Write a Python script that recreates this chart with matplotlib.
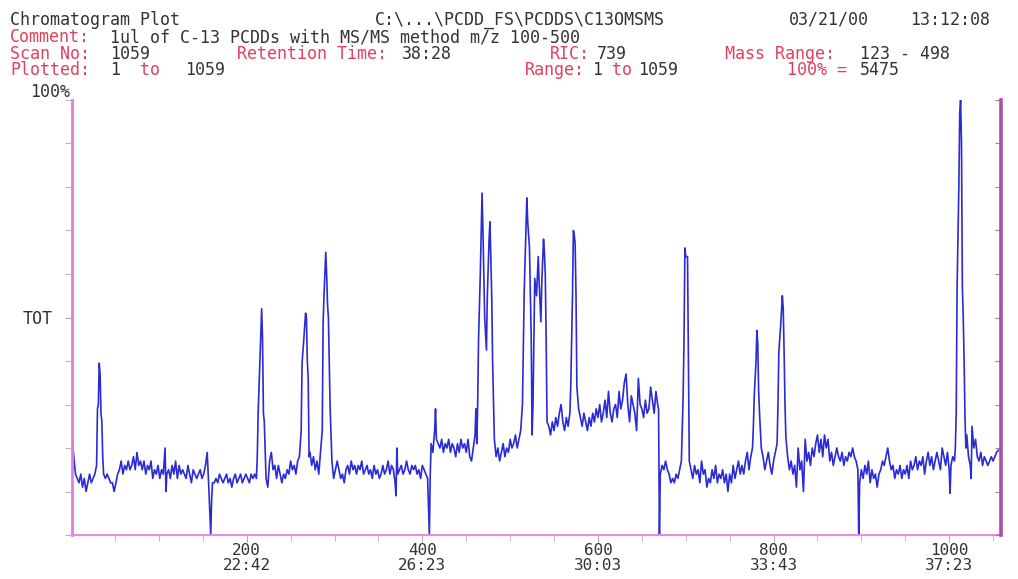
import matplotlib
matplotlib.use("Agg")
import matplotlib.pyplot as plt
from matplotlib.ticker import MultipleLocator, FixedLocator

# ---- data (scan number -> % of 5475 counts) ----
scans = [
    1, 3, 5, 7, 9, 11, 13, 15, 17, 19, 21, 23, 25, 27,
    29, 30, 31, 32, 33, 34, 35, 36, 37,
    39, 41, 43, 45, 47, 49, 51,
    53, 55, 57, 59, 61, 63, 65, 67, 69, 71, 73, 75, 77, 79, 81, 83, 85, 87, 89,
    91, 93, 95, 97, 99, 101, 103, 105,
    107, 108, 109, 111, 113, 115, 117, 119, 121, 123, 125, 127, 129, 131, 133,
    135, 137, 139, 141, 143, 145, 147, 149, 151, 153, 155, 157, 159, 160, 161,
    163, 165, 167, 169, 171, 173, 175, 177, 179, 181, 183, 185, 187, 189, 191,
    193, 195, 197, 199, 201, 203, 205, 207, 209, 211,
    212, 213, 215, 217, 218, 219, 220, 222,
    224, 226, 228, 230, 232, 234, 236, 238, 240, 242, 244, 246, 248, 250, 252,
    254, 256, 258, 260, 262,
    263, 265, 267, 268, 269, 270, 271,
    272, 274, 276, 278, 280, 282, 284, 286,
    287, 288, 290, 291, 292, 293, 295, 297,
    299, 301, 303, 305, 307, 309, 311, 313, 315, 317, 319, 321, 323, 325, 327,
    329, 331, 333, 335, 337, 339, 341, 343, 345, 347, 349, 351, 353, 355, 357,
    359, 361, 363, 365, 367, 369, 370, 371, 372, 374, 376, 378, 380, 382, 384,
    386, 388, 390, 392, 394, 396, 398, 400, 402, 404, 406, 408, 409, 410, 412,
    414, 415, 416,
    418, 420, 422, 424, 426, 428, 430, 432, 434, 436, 438, 440, 442, 444, 446,
    448, 450, 452, 454, 456, 458, 460, 461, 462,
    463, 464, 466, 468, 469, 470, 471, 473, 474, 476, 477, 478, 479, 480, 482,
    484, 486, 488, 490, 492, 494, 496, 498, 500, 502, 504, 506, 508, 510, 512,
    514, 516, 518, 519, 520, 522, 524, 525,
    526, 528, 530, 532, 533, 535, 536, 538, 539, 540, 541, 542,
    544, 546, 548, 550, 552, 554, 556, 558, 560, 562, 564, 566, 568,
    569, 571, 572, 573, 574, 575, 576, 578,
    580, 582, 584, 586, 588, 590, 592, 594, 596, 598, 600, 602, 604, 606, 608,
    610, 612, 614, 616, 618, 620, 622, 624, 626, 628, 630, 632, 634, 636, 638,
    640, 642, 644, 646, 648, 650, 652, 654, 656, 658, 660, 662, 664, 666, 668,
    669, 670, 671,
    673, 675, 677, 679, 681, 683, 685, 687, 689, 691, 693, 695,
    696, 697, 698, 699, 700, 702, 703, 704,
    706, 708, 710, 712, 714, 716, 718, 720, 722, 724, 726, 728, 730, 732, 734,
    736, 738, 740, 742, 744, 746, 748, 750, 752, 754, 756, 758, 760, 762, 764,
    766, 768, 770, 772, 774, 776,
    777, 778, 780, 781, 782, 783, 784, 786,
    788, 790, 792, 794, 796, 798, 800, 802, 804,
    805, 806, 808, 810, 811, 812, 813, 814,
    816, 818, 820, 822, 824, 826, 828, 830, 832, 834, 836, 838, 840, 842, 844,
    846, 848, 850, 852, 854, 856, 858, 860, 862, 864, 866, 868, 870, 872, 874,
    876, 878, 880, 882, 884, 886, 888, 890, 892, 894, 896, 897, 898,
    900, 902, 904, 906, 908, 910, 912, 914, 916, 918, 920, 922, 924, 926, 928,
    930, 932, 934, 936, 938, 940, 942, 944, 946, 948, 950, 952, 954, 956, 958,
    960, 962, 964, 966, 968, 970, 972, 974, 976, 978, 980, 982, 984, 986, 988,
    990, 992, 994, 996, 998, 1000, 1001, 1002, 1004, 1006, 1007,
    1008, 1009, 1011, 1012, 1013, 1014, 1015, 1016, 1017, 1018,
    1019, 1020, 1022, 1024, 1025, 1026, 1028, 1030, 1032, 1034, 1036, 1038,
    1040, 1042, 1044, 1046, 1048, 1050, 1052, 1054, 1056,
]

tot_pct = [
    23, 18, 14, 13, 12, 14, 11, 13, 10, 12, 14, 12, 13, 14,
    16, 29, 30, 39.5, 37, 28, 26, 18, 14,
    13, 14, 13, 12, 12, 10, 12,
    14, 15, 17, 14, 16, 15, 17, 15, 16, 18, 15, 19, 16, 17, 15, 17, 14, 16, 15,
    17, 13, 15, 14, 16, 13, 15, 14,
    20, 10, 14, 15, 13, 16, 14, 17, 13, 16, 14, 15, 14, 13, 16,
    14, 12, 15, 14, 13, 14, 15, 13, 14, 16, 19, 10, 0, 8, 12,
    12, 13, 12, 14, 13, 12, 13, 14, 12, 13, 11, 13, 14, 12, 13,
    14, 12, 13, 14, 13, 12, 14, 13, 14, 13,
    18, 28, 40, 52, 45, 28, 26, 13,
    11, 17, 19, 15, 16, 13, 16, 14, 12, 14, 13, 15, 14, 17, 15,
    16, 14, 17, 18, 24,
    39.5, 45, 51, 50, 40, 36, 18,
    19, 16, 18, 15, 17, 14, 19, 24,
    49, 55, 65, 60, 53, 50, 29, 17,
    13, 15, 17, 15, 13, 14, 12, 15, 16, 14, 17, 15, 16, 14, 16,
    15, 17, 14, 15, 16, 14, 15, 13, 16, 14, 15, 13, 14, 16, 14,
    15, 17, 14, 16, 15, 12, 9, 20, 14, 15, 16, 14, 15, 17, 15,
    14, 16, 15, 16, 14, 15, 13, 16, 15, 14, 13, 0, 14, 21, 19,
    24, 29, 22,
    21, 20, 22, 19, 21, 20, 22, 19, 21, 20, 18, 21, 19, 22, 20,
    21, 19, 22, 18, 17, 20, 23, 29, 21,
    30, 45, 60, 78.6, 70, 60, 50, 42.5, 55, 68, 72, 64, 55, 40, 22,
    18, 20, 17, 19, 21, 18, 20, 19, 22, 20, 21, 23, 20, 22, 24,
    30, 56, 70, 77.5, 72, 66, 45, 23,
    30, 59, 55, 64, 58, 49, 58, 68, 65, 60, 45, 26,
    25, 23, 26, 24, 27, 25, 28, 30, 26, 24, 27, 25, 28,
    34, 55, 70, 69, 67, 55, 34, 29,
    27, 25, 28, 26, 24, 27, 25, 28, 26, 29, 27, 30, 26, 28, 31,
    27, 33, 28, 26, 29, 30, 27, 33, 29, 31, 35, 37, 30, 26, 32,
    30, 28, 24, 36, 30, 29, 27, 31, 28, 29, 34, 31, 28, 33, 30,
    29, 0, 14,
    16, 15, 17, 15, 14, 12, 13, 12, 14, 13, 15, 17,
    25, 32, 45, 66, 64, 64, 40, 17,
    15, 13, 16, 14, 15, 12, 17, 14, 15, 11, 13, 12, 15, 13, 16,
    12, 14, 13, 15, 12, 14, 10, 14, 12, 16, 13, 15, 17, 14, 16,
    14, 17, 19, 15, 18, 20,
    25, 32, 40, 47, 44, 33, 28, 20,
    18, 15, 17, 19, 16, 14, 17, 19, 21,
    30, 42, 48, 55, 52, 42, 30, 22.5,
    18, 15, 17, 14, 16, 11, 20, 15, 17, 10, 22, 17, 19, 16, 20,
    18, 21, 23, 19, 22, 18, 23, 20, 22, 17, 19, 16, 18, 20, 18,
    17, 19, 16, 18, 17, 19, 18, 20, 18, 17, 15, 0, 12,
    15, 13, 16, 14, 17, 12, 15, 13, 14, 11, 14, 15, 17, 16, 18,
    20, 17, 15, 16, 13, 15, 14, 16, 13, 15, 14, 16, 13, 17, 15,
    16, 18, 15, 17, 16, 18, 14, 17, 19, 16, 18, 15, 17, 19, 17,
    15, 20, 18, 16, 19, 15, 9.6, 16, 18, 17, 20,
    28, 57, 80, 97, 100, 90, 57, 50, 40, 27,
    20, 23, 18, 16, 13, 25, 20, 22, 18, 17, 19, 16,
    18, 17, 16, 17, 18, 17, 18, 19, 19.5,
]

tick_scans = [200, 400, 600, 800, 1000]
tick_times = ["22:42", "26:23", "30:03", "33:43", "37:23"]

RED = "#e2405c"
TXT = "#333333"
MONO = "DejaVu Sans Mono"

# header block: (baseline y px, [(x px, text, colour key)])
header_lines = [
    (25, [(10, "Chromatogram Plot", "k"), (375, r"C:\...\PCDD_FS\PCDDS\C13OMSMS", "k"),
          (789, "03/21/00", "k"), (910, "13:12:08", "k")]),
    (42, [(10, "Comment:", "r"), (110, "1ul of C-13 PCDDs with MS/MS method m/z 100-500", "k")]),
    (59, [(10, "Scan No:", "r"), (110, "1059", "k"), (237, "Retention Time:", "r"),
          (402, "38:28", "k"), (550, "RIC:", "r"), (597, "739", "k"),
          (725, "Mass Range:", "r"), (860, "123 - 498", "k")]),
    (75, [(10, "Plotted:", "r"), (110, "1", "k"), (140, "to", "r"), (185, "1059", "k"),
          (525, "Range:", "r"), (592, "1", "k"), (612, "to", "r"), (638, "1059", "k"),
          (787, "100% =", "r"), (860, "5475", "k")]),
]

W, H = 1018, 579
fig = plt.figure(figsize=(W / 100, H / 100), dpi=100)
ax = fig.add_axes([72 / W, 44 / H, 929 / W, 435 / H])

ax.plot(scans, tot_pct, color="#2a2ad6", lw=1.2)
ax.set_xlim(1, 1059)
ax.set_ylim(0, 100)

# spines
ax.spines["top"].set_visible(False)
ax.spines["right"].set_visible(False)
ax.spines["left"].set_color("#e27ae6")
ax.spines["left"].set_linewidth(2.0)
ax.spines["bottom"].set_color("#e68ae6")
ax.spines["bottom"].set_linewidth(1.5)

# x ticks: scan number + retention time
ax.xaxis.set_major_locator(FixedLocator(tick_scans))
ax.set_xticklabels([f"{s}\n{t}" for s, t in zip(tick_scans, tick_times)],
                   family=MONO, fontsize=11.5, color=TXT, linespacing=1.0)
ax.xaxis.set_minor_locator(MultipleLocator(50))
ax.tick_params(axis="x", which="major", length=5, color="#b8a8b8", pad=1)
ax.tick_params(axis="x", which="minor", length=4, color="#b8a8b8")

# y ticks: every 10 %, only TOT labelled
ax.set_yticks([50], labels=["TOT"])
ax.yaxis.set_minor_locator(MultipleLocator(10))
ax.tick_params(axis="y", which="both", length=5, color="#a8a8a8", labelsize=12,
               labelcolor=TXT, pad=9)
for lab in ax.get_yticklabels():
    lab.set_family(MONO)

# right axis, darker purple with inward ticks
ax2 = ax.twinx()
ax2.set_ylim(0, 100)
for side in ["top", "left", "bottom"]:
    ax2.spines[side].set_visible(False)
ax2.spines["right"].set_color("#a850a8")
ax2.spines["right"].set_linewidth(2.6)
ax2.yaxis.set_major_locator(MultipleLocator(10))
ax2.tick_params(axis="y", direction="in", length=4, color="#b070b0", labelright=False)

fig.text(50 / W, 1 - 92 / H, "100%", family=MONO, fontsize=12, color=TXT,
         ha="center", va="center")

# header text
for y, segs in header_lines:
    for x, text, key in segs:
        fig.text(x / W, 1 - y / H, text, family=MONO, fontsize=12,
                 color=RED if key == "r" else TXT, ha="left", va="baseline")

fig.savefig("out.png", dpi=100)
